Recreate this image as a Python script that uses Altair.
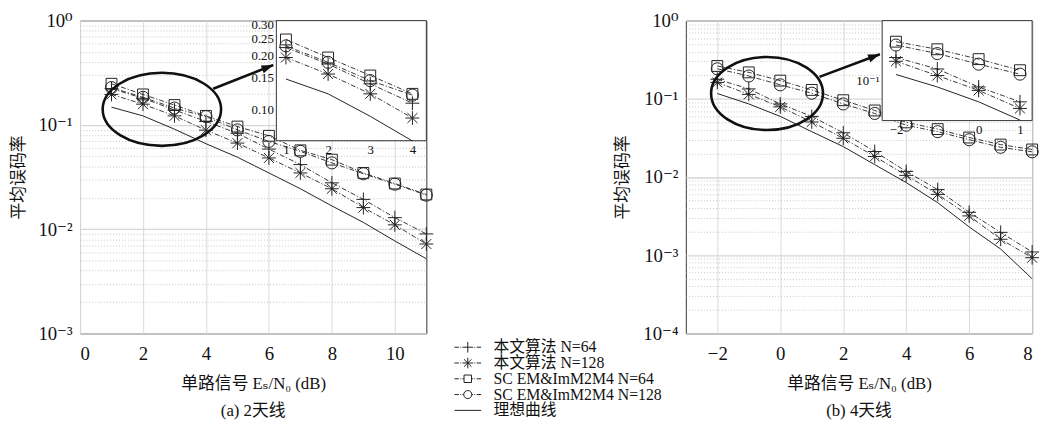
import altair as alt
import pandas as pd

FONT = "Liberation Serif, DejaVu Serif, Noto Sans CJK SC"
INK = "#222222"

SERIES = ["本文算法 N=64", "本文算法 N=128", "SC EM&ImM2M4 N=64", "SC EM&ImM2M4 N=128", "理想曲线"]

# ---------------- (a) 2 antennas ----------------
A_X = [1, 2, 3, 4, 5, 6, 7, 8, 9, 10, 11]
A_PROP64 = [0.223, 0.180, 0.139, 0.108, 0.083, 0.0586, 0.0416, 0.0278, 0.0193, 0.0129, 0.0090]
A_PROP128 = [0.196, 0.158, 0.122, 0.089, 0.0669, 0.0482, 0.0346, 0.0244, 0.0161, 0.0110, 0.0072]
A_SC64 = [0.248, 0.196, 0.155, 0.122, 0.0964, 0.0786, 0.0570, 0.0464, 0.0346, 0.0274, 0.0215]
A_SC128 = [0.228, 0.184, 0.145, 0.120, 0.0896, 0.0694, 0.0557, 0.0432, 0.0340, 0.0270, 0.0212]
A_IDEAL = [0.148, 0.122, 0.091, 0.066, 0.049, 0.0346, 0.0244, 0.0167, 0.0116, 0.0077, 0.0052]
A_XTICKS = [0, 2, 4, 6, 8, 10]
A_YTICKS = [1, 0.1, 0.01, 0.001]
A_YLABELS = ["10⁰", "10⁻¹", "10⁻²", "10⁻³"]
A_INSET_XTICKS = [1, 2, 3, 4]
A_INSET_YTICKS = [0.10, 0.15, 0.20, 0.25, 0.30]
A_INSET_YLABELS = ["0.10", "0.15", "0.20", "0.25", "0.30"]

# ---------------- (b) 4 antennas ----------------
B_X = [-2, -1, 0, 1, 2, 3, 4, 5, 6, 7, 8]
B_PROP64 = [0.178, 0.134, 0.086, 0.0596, 0.0368, 0.0212, 0.0118, 0.0069, 0.00354, 0.00196, 0.0011]
B_PROP128 = [0.162, 0.114, 0.079, 0.0506, 0.0313, 0.0183, 0.0105, 0.0060, 0.00318, 0.0016, 0.00093]
B_SC64 = [0.263, 0.218, 0.171, 0.130, 0.096, 0.071, 0.050, 0.041, 0.032, 0.026, 0.0225]
B_SC128 = [0.242, 0.196, 0.151, 0.118, 0.086, 0.065, 0.046, 0.038, 0.030, 0.024, 0.021]
B_IDEAL = [0.117, 0.086, 0.0596, 0.038, 0.0245, 0.0144, 0.0085, 0.0047, 0.0023, 0.0012, 0.0005]
B_XTICKS = [-2, 0, 2, 4, 6, 8]
B_YTICKS = [1, 0.1, 0.01, 0.001, 0.0001]
B_YLABELS = ["10⁰", "10⁻¹", "10⁻²", "10⁻³", "10⁻⁴"]
B_INSET_XTICKS = [-2, 0, 1]
B_INSET_YTICKS = [0.1]
B_INSET_YLABELS = ["10⁻¹"]

X_TITLE = "单路信号 Eₛ/N₀ (dB)"
Y_TITLE = "平均误码率"
CAPTION_A = "(a) 2天线"
CAPTION_B = "(b) 4天线"

# ---------------- layout / style (not data) ----------------
W, H = 351, 317
DASHDOT = [5, 2, 1.2, 2]


def ellipse_path(rx, ry):
    k = 0.5523
    return (f"M{rx},0C{rx},{k*ry:.4f} {k*rx:.4f},{ry} 0,{ry}"
            f"C{-k*rx:.4f},{ry} {-rx},{k*ry:.4f} {-rx},0"
            f"C{-rx},{-k*ry:.4f} {-k*rx:.4f},{-ry} 0,{-ry}"
            f"C{k*rx:.4f},{-ry} {rx},{-k*ry:.4f} {rx},0Z")


PLUS = "M-1,0L1,0M0,-1L0,1"
STAR = "M-1,0L1,0M0,-1L0,1M-0.72,-0.72L0.72,0.72M-0.72,0.72L0.72,-0.72"
MARK_SHAPES = [PLUS, STAR, "square", "circle"]
MARK_SIZES = [196, 196, 121, 150]

# legend symbols: symbolSize 144 -> 6 px per path unit; total width 27 px
LEG_LINE = "M-2.25,0L-1.5,0M-1.24,0L-1.1,0M1.1,0L1.24,0M1.5,0L2.25,0"
LEGEND_PATHS = [
    LEG_LINE + "M-0.9,0L0.9,0M0,-0.9L0,0.9",
    LEG_LINE + "M-0.9,0L0.9,0M0,-0.9L0,0.9M-0.63,-0.63L0.63,0.63M-0.63,0.63L0.63,-0.63",
    LEG_LINE + "M-0.9,0L-0.63,0M0.63,0L0.9,0M-0.63,-0.63L0.63,-0.63L0.63,0.63L-0.63,0.63Z",
    LEG_LINE + "M-0.9,0L-0.68,0M0.68,0L0.9,0" + ellipse_path(0.68, 0.68),
    "M-2.25,0L2.25,0",
]
HEAD = "M0,0L-2,-0.7L-2,0.7Z"

ANN_A = dict(ex=2.60, ey=0.141, erx=1, ery=0.617, esize=14400,
             ax0=4.23, ay0=0.222, ax1=6.14, ay1=0.375, angle=339)
ANN_B = dict(ex=-0.42, ey=0.117, erx=1, ery=0.653, esize=12860,
             ax0=1.245, ay0=0.191, ax1=3.164, ay1=0.372, angle=339)

INSET_A = dict(xdom=[0.773, 4.33], xrange=[199, 351], ydom=[0.0662, 0.317], ybottom=121.7,
               xmax=4)
INSET_B = dict(xdom=[-2.334, 1.294], xrange=[199, 351], ydom=[0.0375, 0.442], ybottom=101.3,
               xmax=1)


def make_df(x, cols):
    rows = []
    for name, vals in zip(SERIES, cols):
        for xi, v in zip(x, vals):
            rows.append({"x": xi, "ber": v, "series": name})
    return pd.DataFrame(rows)


def label_expr(ticks, labels):
    parts = [f"datum.value == {t} ? '{l}'" for t, l in zip(ticks, labels)]
    return " : ".join(parts) + " : ''"


def all_log_ticks(majors):
    vals = []
    for m in majors:
        vals.append(m)
        if m < 1:
            for k in range(2, 10):
                vals.append(m * k)
    return vals


def panel(df, xdom, xticks, yticks, ylabels, inset, ixticks, iyticks, iylabels, ann, caption, legend):
    major_test = "indexof([" + ",".join(str(t) for t in yticks) + "], datum.value) >= 0"
    xs = alt.Scale(domain=xdom, nice=False, zero=False)
    ys = alt.Scale(type="log", domain=[yticks[-1], yticks[0]], nice=False)
    xaxis = alt.Axis(values=xticks, title=X_TITLE, grid=True, gridColor="#d9d9d9", gridWidth=1,
                     domain=False, ticks=False, labelPadding=11, titlePadding=13,
                     labelFontSize=19, titleFontSize=17, zindex=0)
    yaxis = alt.Axis(values=all_log_ticks(yticks), labelExpr=label_expr(yticks, ylabels),
                     title=Y_TITLE, grid=True,
                     gridColor={"condition": {"test": major_test, "value": "#d6d6d6"}, "value": "#b8b8b8"},
                     gridDash={"condition": {"test": major_test, "value": []}, "value": [1, 2]},
                     gridWidth={"condition": {"test": major_test, "value": 1.3}, "value": 0.8},
                     domain=False, ticks=False, labelPadding=8, titlePadding=11,
                     labelFontSize=19, titleFontSize=17, zindex=0)
    X = alt.X("x:Q", scale=xs, axis=xaxis)
    Y = alt.Y("ber:Q", scale=ys, axis=yaxis)

    base = alt.Chart(df)
    marked = base.transform_filter(alt.FieldOneOfPredicate(field="series", oneOf=SERIES[:4]))
    lines = marked.mark_line(color=INK, strokeWidth=0.9, strokeDash=DASHDOT).encode(
        x=X, y=Y, detail="series:N")
    ideal = base.transform_filter(alt.datum.series == SERIES[4]).mark_line(
        color=INK, strokeWidth=1).encode(x=X, y=Y)
    pts = [base.transform_filter(alt.datum.series == s).mark_point(
        shape=sh, size=sz, filled=False, color=INK, strokeWidth=1, opacity=1).encode(x=X, y=Y)
        for s, sh, sz in zip(SERIES[:4], MARK_SHAPES, MARK_SIZES)]

    ell = alt.Chart(pd.DataFrame({"x": [ann["ex"]], "ber": [ann["ey"]]})).mark_point(
        shape=ellipse_path(ann["erx"], ann["ery"]), size=ann["esize"], filled=False,
        color="#111", strokeWidth=2.6, opacity=1).encode(x=X, y=Y)
    shaft = alt.Chart(pd.DataFrame({"x": [ann["ax0"]], "x2": [ann["ax1"]],
                                    "ber": [ann["ay0"]], "ber2": [ann["ay1"]]})).mark_rule(
        color="#111", strokeWidth=2.6).encode(x=X, x2="x2:Q", y=Y, y2="ber2:Q")
    head = alt.Chart(pd.DataFrame({"x": [ann["ax1"]], "ber": [ann["ay1"]]})).mark_point(
        shape=HEAD, size=144, filled=True, color="#111", angle=ann["angle"], opacity=1).encode(x=X, y=Y)

    main_layers = [lines, ideal] + pts + [ell, shaft, head]
    if legend:
        leg = alt.Chart(pd.DataFrame({"series": SERIES})).transform_filter("false").mark_point(
            filled=False, color=INK, strokeWidth=1, opacity=1).encode(
            shape=alt.Shape("series:N", scale=alt.Scale(domain=SERIES, range=LEGEND_PATHS),
                            legend=alt.Legend(title=None, orient="none", legendX=385, legendY=323,
                                              labelFont=FONT, labelFontSize=16, labelColor="#111",
                                              labelLimit=400,
                                              symbolSize=144, symbolStrokeWidth=1,
                                              symbolStrokeColor=INK, symbolFillColor="transparent",
                                              rowPadding=0, labelOffset=18, padding=0)))
        main_layers.append(leg)
    main = alt.layer(*main_layers)

    ixs = alt.Scale(domain=inset["xdom"], range=inset["xrange"], nice=False, zero=False)
    iys = alt.Scale(type="log", domain=inset["ydom"], range=[inset["ybottom"], 0], nice=False)
    iX = alt.X("x:Q", scale=ixs, axis=alt.Axis(orient="bottom", offset=inset["ybottom"] - H,
                                                values=ixticks, title=None, grid=False, domain=False,
                                                ticks=False, labelPadding=3, labelFontSize=13,
                                                zindex=1))
    iY = alt.Y("ber:Q", scale=iys, axis=alt.Axis(orient="left", offset=-inset["xrange"][0],
                                                  values=iyticks, labelExpr=label_expr(iyticks, iylabels),
                                                  title=None, grid=False, domain=False, ticks=False,
                                                  labelPadding=3, labelFontSize=13, zindex=1))
    box = alt.Chart(pd.DataFrame({"x": [inset["xdom"][0]], "x2": [inset["xdom"][1]],
                                  "ber": [inset["ydom"][0]], "ber2": [inset["ydom"][1]]})).mark_rect(
        fill="white", stroke="#333", strokeWidth=1).encode(x=iX, x2="x2:Q", y=iY, y2="ber2:Q")
    ibase = base.transform_filter(f"datum.x <= {inset['xmax']}")
    ilines = ibase.transform_filter(alt.FieldOneOfPredicate(field="series", oneOf=SERIES[:4])).mark_line(
        color=INK, strokeWidth=0.9, strokeDash=DASHDOT).encode(x=iX, y=iY, detail="series:N")
    iideal = ibase.transform_filter(alt.datum.series == SERIES[4]).mark_line(
        color=INK, strokeWidth=1).encode(x=iX, y=iY)
    ipts = [ibase.transform_filter(alt.datum.series == s).mark_point(
        shape=sh, size=sz, filled=False, color=INK, strokeWidth=1, opacity=1).encode(x=iX, y=iY)
        for s, sh, sz in zip(SERIES[:4], MARK_SHAPES, MARK_SIZES)]
    ins = alt.layer(box, ilines, iideal, *ipts)

    return alt.layer(main, ins).resolve_scale(x="independent", y="independent").properties(
        width=W, height=H,
        title=alt.TitleParams(caption, orient="bottom", font=FONT, fontSize=17, fontWeight="normal",
                              color="#111", offset=12, anchor="middle"))


df_a = make_df(A_X, [A_PROP64, A_PROP128, A_SC64, A_SC128, A_IDEAL])
df_b = make_df(B_X, [B_PROP64, B_PROP128, B_SC64, B_SC128, B_IDEAL])

pa = panel(df_a, [0, 11], A_XTICKS, A_YTICKS, A_YLABELS, INSET_A, A_INSET_XTICKS,
           A_INSET_YTICKS, A_INSET_YLABELS, ANN_A, CAPTION_A, True)
pb = panel(df_b, [-3, 8], B_XTICKS, B_YTICKS, B_YLABELS, INSET_B, B_INSET_XTICKS,
           B_INSET_YTICKS, B_INSET_YLABELS, ANN_B, CAPTION_B, False)

chart = alt.hconcat(pa, pb, spacing=179).properties(
    padding={"left": 0, "top": 0, "right": 0, "bottom": 0}
).configure_view(stroke="#333", strokeWidth=1).configure_axis(
    labelFont=FONT, titleFont=FONT, labelColor="#111", titleColor="#111", titleFontWeight="normal"
)

chart.save("out.html", embed_options={"renderer": "svg", "actions": False})
